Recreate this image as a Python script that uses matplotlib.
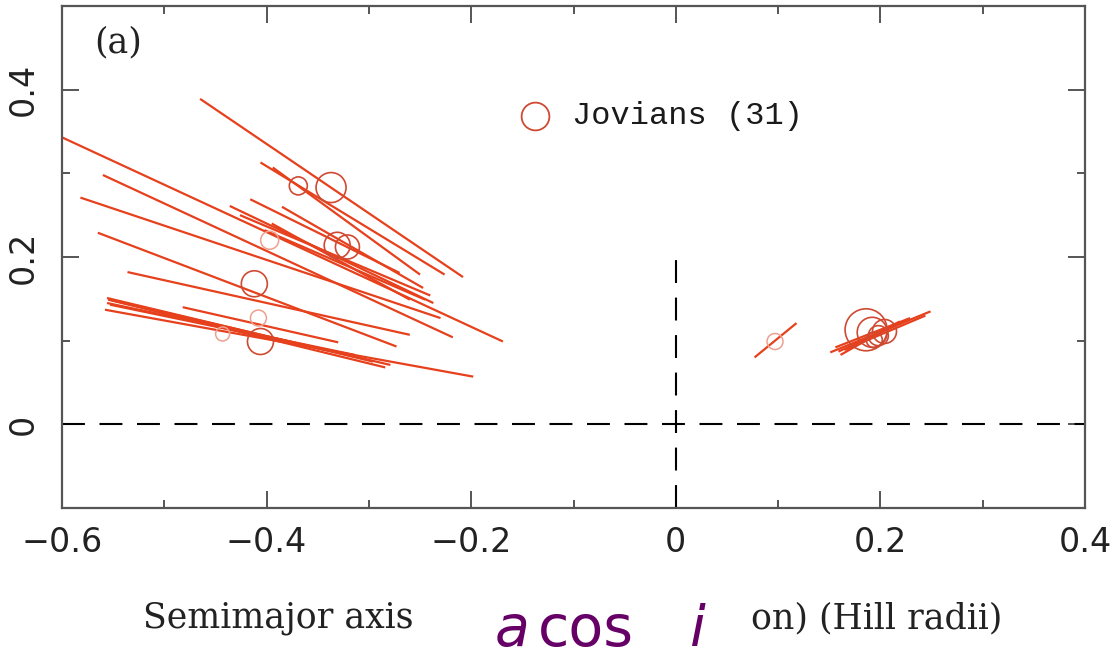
import numpy as np
from matplotlib import pyplot as plt
from matplotlib.ticker import MultipleLocator

# left group: variation segments, start (x0,y0) -> end (x1,y1)
left_x0 = [-0.600, -0.465, -0.406, -0.560, -0.582, -0.416, -0.385, -0.436, -0.395,
           -0.565, -0.536, -0.556, -0.556, -0.558, -0.482, -0.553, -0.394,
           -0.402, -0.426, -0.553, -0.555]
left_y0 = [0.343, 0.389, 0.313, 0.298, 0.271, 0.269, 0.260, 0.261, 0.240,
           0.229, 0.182, 0.151, 0.145, 0.137, 0.140, 0.149, 0.307,
           0.232, 0.250, 0.143, 0.149]
left_x1 = [-0.169, -0.208, -0.226, -0.218, -0.230, -0.270, -0.247, -0.237, -0.260,
           -0.273, -0.260, -0.296, -0.314, -0.198, -0.330, -0.279, -0.250,
           -0.245, -0.240, -0.309, -0.284]
left_y1 = [0.099, 0.176, 0.179, 0.104, 0.127, 0.181, 0.163, 0.145, 0.149,
           0.093, 0.107, 0.075, 0.083, 0.057, 0.098, 0.071, 0.179,
           0.149, 0.154, 0.081, 0.068]

# right group
right_x0 = [0.077, 0.151, 0.156, 0.161, 0.165, 0.170, 0.159]
right_y0 = [0.080, 0.086, 0.092, 0.083, 0.089, 0.094, 0.087]
right_x1 = [0.118, 0.249, 0.229, 0.219, 0.244, 0.214, 0.224]
right_y1 = [0.121, 0.135, 0.127, 0.123, 0.130, 0.118, 0.123]

# planet positions (circle size ~ mass)
circ_x = [-0.337, -0.369, -0.331, -0.321, -0.412, -0.406, 0.186, 0.192, 0.198, 0.194, 0.204]
circ_y = [0.283, 0.285, 0.214, 0.212, 0.168, 0.099, 0.113, 0.110, 0.106, 0.101, 0.111]
circ_size = [15, 9, 13, 12, 13, 13, 21, 15, 10, 8, 12]

faint_x = [-0.397, -0.443, -0.408, 0.097]
faint_y = [0.220, 0.108, 0.127, 0.099]
faint_size = [9, 7, 8, 8]

legend_label = 'Jovians (31)'
panel_label = '(a)'

W, H = 1115, 657
fig = plt.figure(figsize=(W/100, H/100), dpi=100)
ax = fig.add_axes([62/W, 1-508/H, 1023/W, 502/H])

line_col = '#e6401c'
circ_col = '#cf4a32'

for i in range(len(left_x0)):
    ax.plot([left_x0[i], left_x1[i]], [left_y0[i], left_y1[i]], '-', lw=1.6, color=line_col, solid_capstyle='butt')
for i in range(len(right_x0)):
    ax.plot([right_x0[i], right_x1[i]], [right_y0[i], right_y1[i]], '-', lw=1.6, color=line_col, solid_capstyle='butt')

# radius in px -> marker area in pt^2
s_main = (2*np.array(circ_size)*0.72)**2
s_faint = (2*np.array(faint_size)*0.72)**2
ax.scatter(circ_x, circ_y, s=s_main, facecolors='none', edgecolors=circ_col, linewidths=1.2, zorder=3)
ax.scatter(faint_x, faint_y, s=s_faint, facecolors='none', edgecolors='#eea090', linewidths=1.1, zorder=3)

# dashed reference lines
ax.axhline(0, color='black', lw=1.5, linestyle=(0, (11, 7)))
ax.plot([0, 0], [-0.1, 0.2], color='black', lw=1.5, linestyle=(0, (11, 7)))

# legend entry
ax.plot([-0.138], [0.369], 'o', ms=20, mfc='none', mec=circ_col, mew=1.3)
ax.text(-0.1015, 0.369, legend_label, fontsize=23, family='Liberation Mono',
        ha='left', va='center', color='#1a1a1a')
ax.text(-0.568, 0.457, panel_label, fontsize=25, family='DejaVu Serif',
        ha='left', va='center', color='#222222')

ax.set_xlim(-0.6, 0.4)
ax.set_ylim(-0.1, 0.5)
ax.xaxis.set_major_locator(MultipleLocator(0.2))
ax.xaxis.set_minor_locator(MultipleLocator(0.1))
ax.yaxis.set_major_locator(MultipleLocator(0.2))
ax.yaxis.set_minor_locator(MultipleLocator(0.1))
ax.set_xticks([-0.6, -0.4, -0.2, 0, 0.2, 0.4])
ax.set_xticklabels(['\u22120.6', '\u22120.4', '\u22120.2', '0', '0.2', '0.4'])
ax.set_yticks([0, 0.2, 0.4])
ax.set_yticklabels(['0', '0.2', '0.4'], rotation=90, va='center')
ax.tick_params(which='both', direction='in', top=True, right=True, color='#555555', width=1.4)
ax.tick_params(which='major', length=12)
ax.tick_params(which='minor', length=6)
ax.tick_params(axis='x', labelsize=24, pad=13, labelcolor='#222222')
ax.tick_params(axis='y', labelsize=24, pad=16, labelcolor='#222222')
for sp in ax.spines.values():
    sp.set_color('#555555')
    sp.set_linewidth(1.6)

# axis label (middle part is overprinted by the purple annotation)
fig.text(143/W, 1-618/H, 'Semimajor axis', fontsize=25, family='DejaVu Serif',
         ha='left', va='center', color='#222222')
fig.text(1002/W, 1-618/H, 'on) (Hill radii)', fontsize=25, family='DejaVu Serif',
         ha='right', va='center', color='#222222')

purple = '#660066'
fig.text(495/W, 1-646/H, 'a', fontsize=41, style='italic', color=purple, ha='left', va='baseline')
fig.text(538/W, 1-646/H, 'cos', fontsize=41, color=purple, ha='left', va='baseline')
fig.text(690/W, 1-646/H, 'i', fontsize=41, style='italic', color=purple, ha='left', va='baseline')

fig.savefig('out.png', dpi=100)
plt.close()
